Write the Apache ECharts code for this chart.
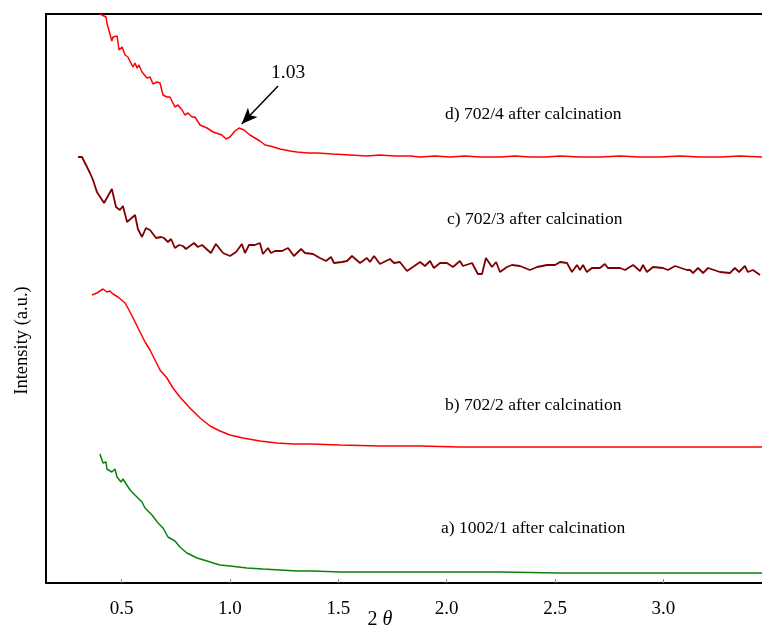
<!DOCTYPE html>
<html>
<head>
<meta charset="utf-8">
<script src="https://cdn.jsdelivr.net/npm/echarts@6/dist/echarts.min.js"></script>
<style>html,body{margin:0;padding:0;background:#fff;}#c{width:762px;height:625px;}</style>
</head>
<body>
<div id="c"></div>
<script>
// ---- data (2θ in degrees, intensity in arbitrary units) ----
const xTickValues = [0.5, 1.0, 1.5, 2.0, 2.5, 3.0];
const xTickLabels = ['0.5', '1.0', '1.5', '2.0', '2.5', '3.0'];

const seriesNames = ['d) 702/4 after calcination', 'c) 702/3 after calcination', 'b) 702/2 after calcination', 'a) 1002/1 after calcination'];

const dX = [0.400,0.428,0.432,0.441,0.455,0.460,0.479,0.488,0.502,0.516,0.529,0.552,0.562,0.571,0.580,0.594,0.617,0.631,0.645,0.663,0.677,0.691,0.709,0.723,0.746,0.760,0.779,0.792,0.806,0.825,0.838,0.862,0.894,0.922,0.963,0.982,1.000,1.023,1.042,1.065,1.092,1.115,1.138,1.162,1.185,1.231,1.277,1.309,1.360,1.402,1.475,1.554,1.632,1.692,1.761,1.831,1.877,1.946,2.015,2.084,2.154,2.246,2.315,2.385,2.454,2.523,2.615,2.708,2.800,2.892,2.985,3.077,3.169,3.262,3.354,3.455];
const dY = [569,566,560,558,542,546,547,533,536,528,526,516,520,515,518,511,505,506,499,501,500,488,486,486,476,478,473,468,470,466,466,458,455,451,448,444,446,452,455,453,448,445,442,438,437,434,432,431,430,430,429,428,427,428,427,427,426,427,426,427,426,426,427,426,426,427,426,426,427,426,426,427,426,426,427,426];

const cX = [0.299,0.317,0.354,0.368,0.386,0.419,0.455,0.474,0.492,0.506,0.525,0.562,0.575,0.594,0.612,0.631,0.659,0.682,0.695,0.714,0.728,0.746,0.765,0.783,0.797,0.834,0.852,0.871,0.912,0.935,0.968,0.977,1.000,1.028,1.055,1.069,1.088,1.115,1.138,1.152,1.175,1.189,1.208,1.240,1.268,1.295,1.328,1.346,1.383,1.415,1.443,1.466,1.480,1.517,1.540,1.563,1.600,1.632,1.646,1.665,1.692,1.738,1.757,1.784,1.817,1.844,1.877,1.900,1.923,1.941,1.969,2.001,2.029,2.061,2.075,2.117,2.144,2.163,2.181,2.209,2.228,2.246,2.278,2.301,2.338,2.384,2.417,2.463,2.472,2.500,2.523,2.555,2.578,2.601,2.615,2.629,2.647,2.670,2.707,2.730,2.744,2.800,2.823,2.860,2.892,2.906,2.924,2.952,2.998,3.021,3.054,3.109,3.123,3.137,3.160,3.183,3.206,3.261,3.307,3.330,3.349,3.376,3.390,3.413,3.446];
const cY = [426,426,410,403,391,380,394,376,373,377,361,368,354,346,355,353,345,346,345,341,344,335,338,337,334,340,336,338,330,339,330,332,327,331,339,330,338,338,340,329,335,330,332,332,335,327,334,330,329,325,322,326,320,321,322,327,320,325,321,327,319,324,320,321,312,316,321,317,322,315,320,320,316,322,317,320,309,309,325,316,321,311,316,318,317,313,316,318,320,318,321,320,311,318,313,318,311,315,315,319,315,315,313,318,312,318,311,316,315,313,317,313,313,310,315,310,315,311,310,315,311,317,311,313,308];

const bX = [0.363,0.386,0.400,0.414,0.432,0.446,0.460,0.483,0.516,0.539,0.562,0.585,0.608,0.631,0.654,0.677,0.709,0.737,0.769,0.815,0.862,0.908,0.954,1.000,1.060,1.138,1.217,1.291,1.369,1.508,1.692,1.877,2.061,2.246,2.523,2.800,3.077,3.455];
const bY = [288,290,292,294,291,292,289,286,280,271,261,251,241,233,223,213,205,195,186,175,165,157,152,148,145,142,140,139,139,138,137,137,136,136,136,136,136,136];

const aX = [0.400,0.414,0.428,0.432,0.455,0.469,0.479,0.488,0.497,0.506,0.539,0.575,0.594,0.608,0.640,0.668,0.691,0.714,0.746,0.769,0.801,0.848,0.894,0.922,0.954,1.000,1.078,1.152,1.231,1.309,1.383,1.508,1.692,1.877,2.061,2.246,2.523,2.800,3.169,3.455];
const aY = [129,120,121,114,111,114,106,108,101,104,93,85,81,75,68,60,55,46,42,36,30,25,22,20,18,17,15,14,13,12,12,11,11,11,11,11,10,10,10,10];

const peakLabel = '1.03';
const arrowFrom = [1.222, 497];
const arrowTo = [1.054, 459];

// ---- chart ----
const zip = (xs, ys) => xs.map((x, i) => [x, ys[i]]);
const serif = '"Liberation Serif", "DejaVu Serif", serif';
const chart = echarts.init(document.getElementById('c'), null, {renderer: 'canvas'});

const lineSeries = (name, xs, ys, color, width) => ({
  name, type: 'line', data: zip(xs, ys), showSymbol: false, symbol: 'none',
  lineStyle: {color, width}, itemStyle: {color}, animation: false, z: 3
});

const sD = lineSeries(seriesNames[0], dX, dY, '#ff0000', 1.5);
sD.markLine = {
  silent: true, animation: false,
  symbol: ['none', 'arrow'], symbolSize: [10, 16],
  lineStyle: {color: '#000', width: 1.5, type: 'solid'},
  label: {show: false},
  data: [[{coord: arrowFrom}, {coord: arrowTo}]]
};

const textEl = (text, left, top, size) => ({
  type: 'text', left, top,
  style: {text, font: size + 'px ' + serif, fill: '#000'}
});

chart.setOption({
  animation: false,
  backgroundColor: '#fff',
  grid: {left: 46, top: 14, right: 0, bottom: 42, containLabel: false, outerBoundsMode: 'none'},
  xAxis: [{
    type: 'value', min: 0.151, max: 3.455, position: 'bottom',
    axisLine: {show: true, onZero: false, lineStyle: {color: '#000', width: 2}},
    axisTick: {show: true, inside: true, length: 4, customValues: xTickValues, lineStyle: {color: '#888', width: 1}},
    axisLabel: {show: true, customValues: xTickValues, margin: 17,
      formatter: v => { const i = xTickValues.findIndex(t => Math.abs(t - v) < 1e-6); return i >= 0 ? xTickLabels[i] : ''; },
      color: '#000', fontFamily: serif, fontSize: 19},
    splitLine: {show: false},
    name: '2 {i|θ}', nameLocation: 'middle', nameGap: 27, nameMoveOverlap: false,
    nameTextStyle: {color: '#000', fontFamily: serif, fontSize: 20, padding: [0, 48, 0, 0],
      rich: {i: {fontStyle: 'italic', fontFamily: serif, fontSize: 20, color: '#000'}}}
  }, {
    type: 'value', min: 0.151, max: 3.455, position: 'top',
    axisLine: {show: true, onZero: false, lineStyle: {color: '#000', width: 2}},
    axisTick: {show: false}, axisLabel: {show: false}, splitLine: {show: false}
  }],
  yAxis: {
    type: 'value', min: 0, max: 569,
    axisLine: {show: true, onZero: false, lineStyle: {color: '#000', width: 2}},
    axisTick: {show: false}, axisLabel: {show: false}, splitLine: {show: false},
    name: 'Intensity (a.u.)', nameLocation: 'middle', nameGap: 14, nameMoveOverlap: false,
    nameTextStyle: {color: '#000', fontFamily: serif, fontSize: 18.5, padding: [0, 84, 0, 0]}
  },
  series: [
    sD,
    lineSeries(seriesNames[1], cX, cY, '#800000', 1.8),
    lineSeries(seriesNames[2], bX, bY, '#ff0000', 1.5),
    lineSeries(seriesNames[3], aX, aY, '#0a820a', 1.5)
  ],
  graphic: [
    textEl(seriesNames[0], 445, 105, 17.5),
    textEl(seriesNames[1], 447, 210, 17.5),
    textEl(seriesNames[2], 445, 396, 17.5),
    textEl(seriesNames[3], 441, 519, 17.5),
    textEl(peakLabel, 271, 63, 19.5)
  ]
});
</script>
</body>
</html>
